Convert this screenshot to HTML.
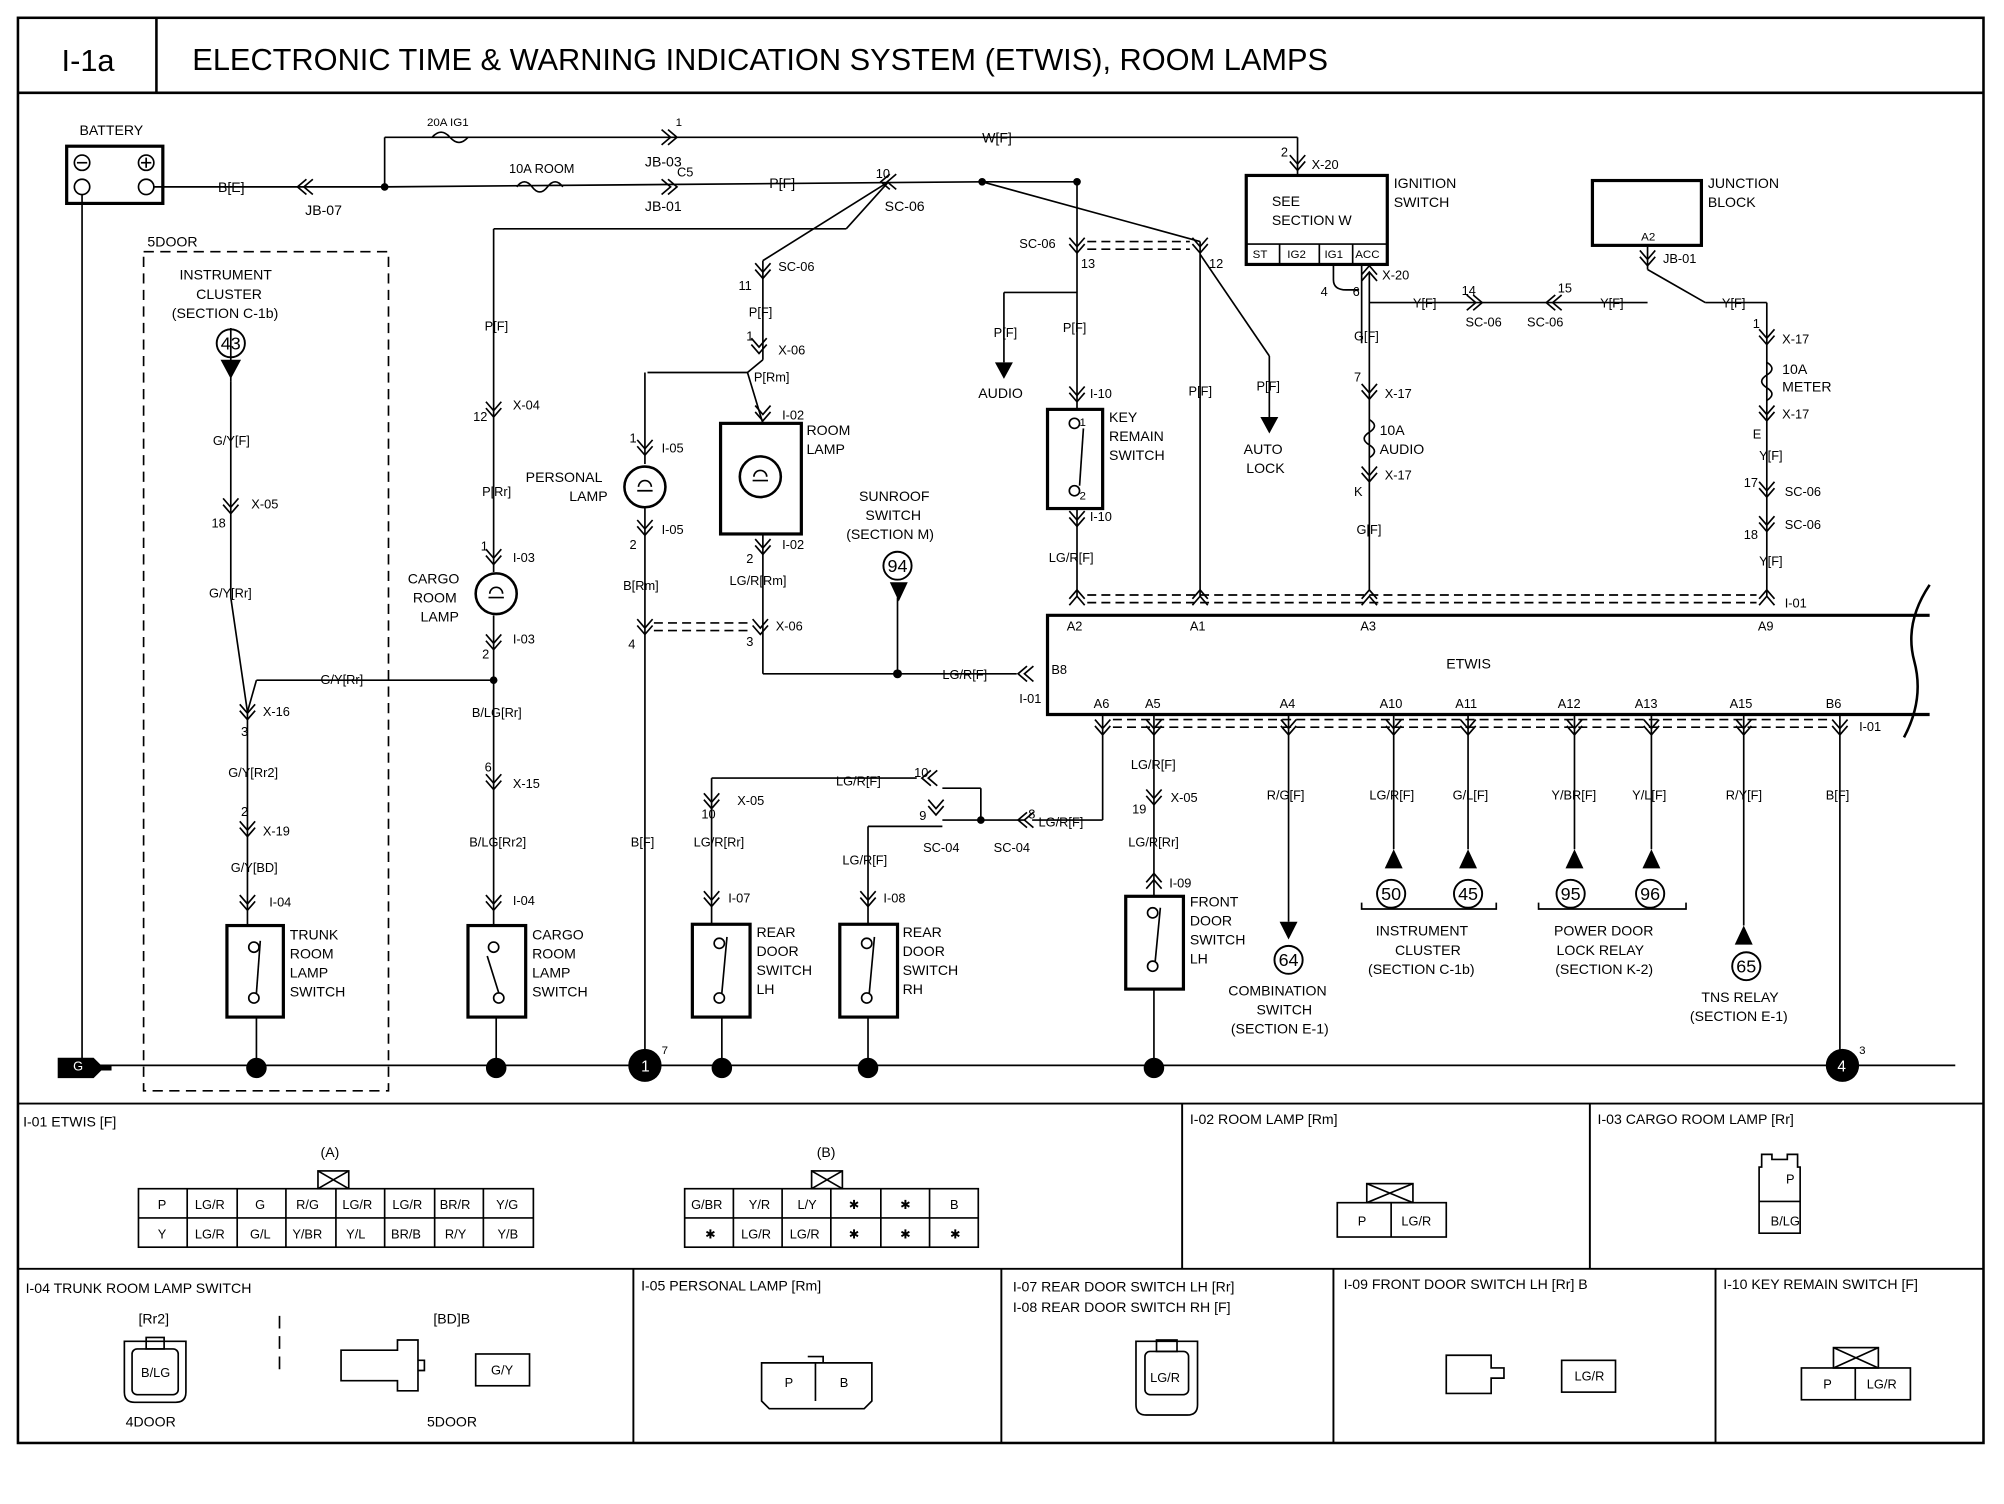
<!DOCTYPE html>
<html><head><meta charset="utf-8"><style>
html,body{margin:0;padding:0;background:#fff;}
svg{display:block;}
text{font-family:"Liberation Sans",sans-serif;fill:#000;}
</style></head><body>
<svg width="2004" height="1504" viewBox="0 0 1563 1183" preserveAspectRatio="none" xmlns="http://www.w3.org/2000/svg">
<defs>
<g id="cv"><path d="M-6,-6 L0,1 L6,-6 M-6,-1 L0,6 L6,-1" fill="none" stroke="#000" stroke-width="1.3"/></g>
<g id="ch"><path d="M-6,-6 L1,0 L-6,6 M-1,-6 L6,0 L-1,6" fill="none" stroke="#000" stroke-width="1.3"/></g>
<g id="chl"><path d="M6,-6 L-1,0 L6,6 M1,-6 L-6,0 L1,6" fill="none" stroke="#000" stroke-width="1.3"/></g>
<g id="cu"><path d="M-6,6 L0,-1 L6,6 M-6,1 L0,-6 L6,1" fill="none" stroke="#000" stroke-width="1.3"/></g>
</defs>
<rect width="1563" height="1183" fill="#fff"/>
<g fill="none" stroke="#000" stroke-width="2">
<rect x="14" y="14" width="1533" height="1121"/>
<line x1="14" y1="73" x2="1547" y2="73"/>
<line x1="122" y1="14" x2="122" y2="73"/>
<line x1="14" y1="868" x2="1547" y2="868" stroke-width="1.5"/>
<line x1="14" y1="998" x2="1547" y2="998" stroke-width="1.5"/>
<line x1="922" y1="868" x2="922" y2="998" stroke-width="1.5"/>
<line x1="1240" y1="868" x2="1240" y2="998" stroke-width="1.5"/>
<line x1="494" y1="998" x2="494" y2="1135" stroke-width="1.5"/>
<line x1="781" y1="998" x2="781" y2="1135" stroke-width="1.5"/>
<line x1="1040" y1="998" x2="1040" y2="1135" stroke-width="1.5"/>
<line x1="1338" y1="998" x2="1338" y2="1135" stroke-width="1.5"/>
</g>
<text x="48" y="56" font-size="24">I-1a</text>
<text x="150" y="55" font-size="24">ELECTRONIC TIME &amp; WARNING INDICATION SYSTEM (ETWIS), ROOM LAMPS</text>

<g fill="none" stroke="#000" stroke-width="1.3">
<!-- battery -->
<rect x="52" y="115" width="75" height="45" stroke-width="2.5"/>
<circle cx="64" cy="128" r="6"/><circle cx="64" cy="147" r="6"/><circle cx="114" cy="128" r="6"/><circle cx="114" cy="147" r="6"/>
<line x1="60" y1="128" x2="68" y2="128"/><line x1="110" y1="128" x2="118" y2="128"/><line x1="114" y1="124" x2="114" y2="132"/>
<line x1="64" y1="153" x2="64" y2="838"/>
<line x1="120" y1="147" x2="300" y2="147"/>
<line x1="300" y1="147" x2="300" y2="108"/>
<line x1="300" y1="108" x2="1012" y2="108"/>
<line x1="1012" y1="108" x2="1012" y2="138"/>
<line x1="300" y1="147" x2="766" y2="143"/>
<line x1="766" y1="143" x2="840" y2="143"/>
<line x1="840" y1="143" x2="840" y2="322"/>
<line x1="766" y1="143" x2="936" y2="190"/>
<line x1="936" y1="190" x2="936" y2="470"/>
<line x1="936" y1="200" x2="990" y2="280"/><line x1="990" y1="280" x2="990" y2="330"/>
<line x1="840" y1="230" x2="783" y2="230"/><line x1="783" y1="230" x2="783" y2="285"/>
<line x1="385" y1="180" x2="660" y2="180"/><line x1="660" y1="180" x2="693" y2="143"/>
<line x1="693" y1="143" x2="595" y2="205"/><line x1="595" y1="205" x2="595" y2="283"/>
<line x1="595" y1="283" x2="583" y2="293"/><line x1="583" y1="293" x2="505" y2="293"/>
<line x1="583" y1="293" x2="595" y2="333"/>
<!-- 385 line -->
<line x1="385" y1="180" x2="385" y2="450"/>
<circle cx="387" cy="467" r="16" stroke-width="2"/><path d="M382,467 a5,5 0 1 1 10,0 M381,470 h12"/>
<line x1="385" y1="484" x2="385" y2="728"/>
<rect x="365" y="728" width="45" height="72" stroke-width="2.5"/>
<circle cx="385" cy="745" r="4"/><circle cx="389" cy="785" r="4"/><line x1="380" y1="752" x2="389" y2="781"/>
<line x1="387" y1="800" x2="387" y2="838"/>
<!-- G/Y -->
<line x1="200" y1="535" x2="385" y2="535"/>
<line x1="200" y1="535" x2="193" y2="560"/>
<line x1="180" y1="300" x2="180" y2="470"/><line x1="180" y1="470" x2="193" y2="560"/>
<line x1="193" y1="560" x2="193" y2="728"/>
<rect x="177" y="728" width="44" height="72" stroke-width="2.5"/>
<circle cx="198" cy="745" r="4"/><circle cx="198" cy="785" r="4"/><line x1="203" y1="740" x2="200" y2="781"/>
<line x1="200" y1="800" x2="200" y2="838"/>
<rect x="112" y="198" width="191" height="660" stroke-dasharray="8,5"/>
<!-- personal lamp -->
<line x1="503" y1="293" x2="503" y2="365"/>
<circle cx="503" cy="383" r="16" stroke-width="2"/><path d="M498,383 a5,5 0 1 1 10,0 M497,386 h12"/>
<line x1="503" y1="400" x2="503" y2="838"/>
<line x1="510" y1="490" x2="585" y2="490" stroke-dasharray="7,4"/><line x1="510" y1="496" x2="585" y2="496" stroke-dasharray="7,4"/>
<!-- room lamp -->
<rect x="562" y="333" width="63" height="87" stroke-width="2.5"/>
<circle cx="593" cy="375" r="16" stroke-width="2"/><path d="M588,375 a5,5 0 1 1 10,0 M587,378 h12"/>
<line x1="595" y1="420" x2="595" y2="530"/>
<line x1="595" y1="530" x2="793" y2="530"/>
<line x1="700" y1="470" x2="700" y2="530"/>
<!-- key remain -->
<rect x="817" y="322" width="43" height="78" stroke-width="2.5"/>
<circle cx="838" cy="333" r="4"/><circle cx="838" cy="386" r="4"/><line x1="845" y1="337" x2="842" y2="382"/>
<line x1="840" y1="400" x2="840" y2="470"/>
<line x1="848" y1="190" x2="928" y2="190" stroke-dasharray="7,4"/><line x1="848" y1="196" x2="928" y2="196" stroke-dasharray="7,4"/>
<!-- ignition -->
<rect x="972" y="138" width="110" height="70" stroke-width="2.5"/>
<line x1="972" y1="192" x2="1082" y2="192"/>
<line x1="998" y1="192" x2="998" y2="208"/><line x1="1029" y1="192" x2="1029" y2="208"/><line x1="1055" y1="192" x2="1055" y2="208"/>
<path d="M1040,208 v12 q0,8 10,8 h10 M1062,208 v62"/>
<line x1="1068" y1="215" x2="1068" y2="465"/>
<line x1="1068" y1="238" x2="1285" y2="238"/>
<line x1="1285" y1="193" x2="1285" y2="212"/>
<line x1="1285" y1="212" x2="1330" y2="238"/><line x1="1330" y1="238" x2="1378" y2="238"/>
<line x1="1378" y1="238" x2="1378" y2="470"/>
<rect x="1242" y="142" width="85" height="51" stroke-width="2.5"/>
<!-- dashed top -->
<line x1="848" y1="468" x2="1370" y2="468" stroke-dasharray="7,4"/><line x1="848" y1="474" x2="1370" y2="474" stroke-dasharray="7,4"/>
<!-- ETWIS -->
<path d="M1505,484 H817 V562 H1505" stroke-width="2.5"/>
<path d="M1505,460 q-20,30 -12,60 q8,30 -8,60" stroke-width="2"/>
<line x1="868" y1="566" x2="1428" y2="566" stroke-dasharray="7,4"/><line x1="868" y1="572" x2="1428" y2="572" stroke-dasharray="7,4"/>
<line x1="860" y1="562" x2="860" y2="645"/><line x1="860" y1="645" x2="805" y2="645"/>
<line x1="800" y1="645" x2="735" y2="645"/>
<line x1="765" y1="645" x2="765" y2="620"/><line x1="765" y1="620" x2="735" y2="620"/>
<line x1="715" y1="612" x2="555" y2="612"/><line x1="555" y1="612" x2="555" y2="727"/>
<line x1="735" y1="650" x2="677" y2="650"/><line x1="677" y1="650" x2="677" y2="727"/>
<rect x="540" y="727" width="45" height="73" stroke-width="2.5"/>
<circle cx="561" cy="742" r="4"/><circle cx="561" cy="785" r="4"/><line x1="567" y1="737" x2="563" y2="781"/>
<line x1="563" y1="800" x2="563" y2="838"/>
<rect x="655" y="727" width="45" height="73" stroke-width="2.5"/>
<circle cx="676" cy="742" r="4"/><circle cx="676" cy="785" r="4"/><line x1="682" y1="737" x2="678" y2="781"/>
<line x1="677" y1="800" x2="677" y2="838"/>
<line x1="900" y1="562" x2="900" y2="705"/>
<rect x="878" y="705" width="45" height="73" stroke-width="2.5"/>
<circle cx="899" cy="718" r="4"/><circle cx="899" cy="760" r="4"/><line x1="905" y1="714" x2="901" y2="756"/>
<line x1="900" y1="778" x2="900" y2="838"/>
<line x1="1005" y1="562" x2="1005" y2="725"/>
<line x1="1087" y1="562" x2="1087" y2="668"/>
<line x1="1145" y1="562" x2="1145" y2="668"/>
<line x1="1228" y1="562" x2="1228" y2="668"/>
<line x1="1288" y1="562" x2="1288" y2="668"/>
<line x1="1360" y1="562" x2="1360" y2="728"/>
<line x1="1435" y1="562" x2="1435" y2="838"/>
<path d="M1062,710 v5 h105 v-5 M1200,710 v5 h115 v-5"/>
<!-- sunroof / 43 -->
<line x1="180" y1="258" x2="180" y2="300"/>
<!-- ground -->
<line x1="64" y1="838" x2="1525" y2="838"/>
</g>
<!-- fuses -->
<g fill="none" stroke="#000" stroke-width="1.3">
<path d="M337,108 q7,-8 14,0 q7,8 14,0"/>
<path d="M403,147 q6,-8 12,0 q6,8 12,0 q6,-8 12,0"/>
<path d="M1068,330 q8,5 0,10 q-8,5 0,10 q8,5 0,10"/>
<path d="M1378,285 q8,5 0,10 q-8,5 0,10 q8,5 0,10"/>
</g>
<g fill="#000">
<circle cx="300" cy="147" r="3"/><circle cx="766" cy="143" r="3"/><circle cx="840" cy="143" r="3"/><circle cx="700" cy="530" r="3.5"/><circle cx="765" cy="645" r="3"/><circle cx="385" cy="535" r="3"/>
<circle cx="200" cy="840" r="8"/><circle cx="387" cy="840" r="8"/><circle cx="563" cy="840" r="8"/><circle cx="677" cy="840" r="8"/><circle cx="900" cy="840" r="8"/>
<circle cx="503" cy="838" r="13"/><circle cx="1437" cy="838" r="13"/>
<path d="M172,283 h16 l-8,15z"/><path d="M694,458 h14 l-7,15z"/>
<path d="M776,285 h14 l-7,13z"/><path d="M983,328 h14 l-7,13z"/>
<path d="M998,725 h14 l-7,14z"/>
<path d="M1080,683 h14 l-7,-15z"/><path d="M1138,683 h14 l-7,-15z"/><path d="M1221,683 h14 l-7,-15z"/><path d="M1281,683 h14 l-7,-15z"/><path d="M1353,743 h14 l-7,-15z"/>
<path d="M45,832 h28 l6,6 h8 v4 h-8 l-6,6 h-28z"/>
</g>
<text x="500" y="843" font-size="12" fill="#fff" style="fill:#fff">1</text>
<text x="1433" y="843" font-size="12" style="fill:#fff">4</text>
<text x="516" y="829" font-size="9">7</text><text x="1450" y="829" font-size="9">3</text>
<g fill="none" stroke="#000" stroke-width="1.5">
<circle cx="180" cy="270" r="11"/><circle cx="700" cy="445" r="11"/><circle cx="1005" cy="755" r="11"/>
<circle cx="1085" cy="703" r="11"/><circle cx="1145" cy="703" r="11"/><circle cx="1225" cy="703" r="11"/><circle cx="1287" cy="703" r="11"/><circle cx="1362" cy="760" r="11"/>
</g>
<g font-size="14" text-anchor="middle">
<text x="180" y="275">43</text><text x="700" y="450">94</text><text x="1005" y="760">64</text><text x="1085" y="708">50</text><text x="1145" y="708">45</text><text x="1225" y="708">95</text><text x="1287" y="708">96</text><text x="1362" y="765">65</text>
</g>
<!-- connectors -->
<use href="#chl" x="238" y="147"/><use href="#ch" x="522" y="108"/><use href="#ch" x="522" y="147"/><use href="#chl" x="693" y="143"/>
<use href="#cv" x="595" y="213"/><use href="#cv" x="592" y="272"/><use href="#cv" x="595" y="325"/><use href="#cv" x="595" y="430"/><use href="#cv" x="593" y="493"/>
<use href="#cv" x="385" y="322"/><use href="#cv" x="385" y="438"/><use href="#cv" x="385" y="505"/><use href="#cv" x="385" y="615"/><use href="#cv" x="385" y="710"/>
<use href="#cv" x="180" y="398"/><use href="#cv" x="193" y="560"/><use href="#cv" x="193" y="652"/><use href="#cv" x="193" y="710"/>
<use href="#cv" x="503" y="352"/><use href="#cv" x="503" y="415"/><use href="#cv" x="503" y="493"/>
<use href="#cv" x="840" y="193"/><use href="#cv" x="840" y="310"/><use href="#cv" x="840" y="408"/><use href="#cu" x="840" y="470"/>
<use href="#cv" x="936" y="193"/><use href="#cu" x="936" y="470"/>
<use href="#cv" x="1012" y="128"/><use href="#cu" x="1068" y="215"/><use href="#ch" x="1150" y="238"/><use href="#chl" x="1212" y="238"/><use href="#cv" x="1285" y="203"/>
<use href="#cv" x="1068" y="308"/><use href="#cv" x="1068" y="373"/><use href="#cu" x="1068" y="470"/>
<use href="#cv" x="1378" y="265"/><use href="#cv" x="1378" y="325"/><use href="#cv" x="1378" y="385"/><use href="#cv" x="1378" y="412"/><use href="#cu" x="1378" y="470"/>
<use href="#chl" x="800" y="530"/>
<use href="#cv" x="860" y="572"/><use href="#cv" x="900" y="572"/><use href="#cv" x="1005" y="572"/><use href="#cv" x="1087" y="572"/><use href="#cv" x="1145" y="572"/><use href="#cv" x="1228" y="572"/><use href="#cv" x="1288" y="572"/><use href="#cv" x="1360" y="572"/><use href="#cv" x="1435" y="572"/>
<use href="#cv" x="900" y="627"/><use href="#cu" x="900" y="693"/>
<use href="#chl" x="800" y="645"/><use href="#chl" x="725" y="612"/><use href="#cv" x="730" y="635"/>
<use href="#cv" x="555" y="630"/><use href="#cv" x="555" y="707"/><use href="#cv" x="677" y="707"/>
<!-- labels -->
<g font-size="11">
<text x="62" y="106">BATTERY</text>
<text x="170" y="151">B[E]</text><text x="238" y="169">JB-07</text>
<text x="333" y="99" font-size="9">20A IG1</text><text x="527" y="99" font-size="9">1</text><text x="503" y="131">JB-03</text>
<text x="397" y="136" font-size="10">10A ROOM</text><text x="528" y="139" font-size="10">C5</text><text x="503" y="166">JB-01</text>
<text x="600" y="148">P[F]</text><text x="766" y="112">W[F]</text>
<text x="683" y="140" font-size="10">10</text><text x="690" y="166">SC-06</text>
<text x="115" y="194">5DOOR</text>
<text x="140" y="220">INSTRUMENT</text><text x="153" y="235">CLUSTER</text><text x="134" y="250">(SECTION C-1b)</text>
<text x="166" y="350" font-size="10">G/Y[F]</text><text x="196" y="400" font-size="10">X-05</text><text x="165" y="415" font-size="10">18</text>
<text x="163" y="470" font-size="10">G/Y[Rr]</text><text x="250" y="538" font-size="10">G/Y[Rr]</text>
<text x="205" y="563" font-size="10">X-16</text><text x="188" y="579" font-size="10">3</text>
<text x="178" y="611" font-size="10">G/Y[Rr2]</text><text x="188" y="642" font-size="10">2</text><text x="205" y="657" font-size="10">X-19</text>
<text x="180" y="686" font-size="10">G/Y[BD]</text><text x="210" y="713" font-size="10">I-04</text>
<text x="226" y="739">TRUNK</text><text x="226" y="754">ROOM</text><text x="226" y="769">LAMP</text><text x="226" y="784">SWITCH</text>
<text x="378" y="260" font-size="10">P[F]</text><text x="400" y="322" font-size="10">X-04</text><text x="369" y="331" font-size="10">12</text>
<text x="376" y="390" font-size="10">P[Rr]</text><text x="375" y="433" font-size="10">1</text><text x="400" y="442" font-size="10">I-03</text>
<text x="318" y="459">CARGO</text><text x="322" y="474">ROOM</text><text x="328" y="489">LAMP</text>
<text x="400" y="506" font-size="10">I-03</text><text x="376" y="518" font-size="10">2</text>
<text x="368" y="564" font-size="10">B/LG[Rr]</text><text x="378" y="607" font-size="10">6</text><text x="400" y="620" font-size="10">X-15</text>
<text x="366" y="666" font-size="10">B/LG[Rr2]</text><text x="400" y="712" font-size="10">I-04</text>
<text x="415" y="739">CARGO</text><text x="415" y="754">ROOM</text><text x="415" y="769">LAMP</text><text x="415" y="784">SWITCH</text>
<text x="410" y="379">PERSONAL</text><text x="444" y="394">LAMP</text>
<text x="491" y="348" font-size="10">1</text><text x="516" y="356" font-size="10">I-05</text>
<text x="516" y="420" font-size="10">I-05</text><text x="491" y="432" font-size="10">2</text>
<text x="486" y="464" font-size="10">B[Rm]</text><text x="490" y="510" font-size="10">4</text><text x="492" y="666" font-size="10">B[F]</text>
<text x="576" y="228" font-size="10">11</text><text x="607" y="213" font-size="10">SC-06</text><text x="584" y="249" font-size="10">P[F]</text>
<text x="582" y="268" font-size="10">1</text><text x="607" y="279" font-size="10">X-06</text><text x="588" y="300" font-size="10">P[Rm]</text>
<text x="610" y="330" font-size="10">I-02</text><text x="629" y="342">ROOM</text><text x="629" y="357">LAMP</text>
<text x="582" y="443" font-size="10">2</text><text x="610" y="432" font-size="10">I-02</text>
<text x="569" y="460" font-size="10">LG/R[Rm]</text><text x="582" y="508" font-size="10">3</text><text x="605" y="496" font-size="10">X-06</text>
<text x="670" y="394">SUNROOF</text><text x="675" y="409">SWITCH</text><text x="660" y="424">(SECTION M)</text>
<text x="735" y="534" font-size="10">LG/R[F]</text><text x="820" y="530" font-size="10">B8</text><text x="795" y="553" font-size="10">I-01</text>
<text x="795" y="195" font-size="10">SC-06</text><text x="843" y="211" font-size="10">13</text>
<text x="775" y="265" font-size="10">P[F]</text><text x="829" y="261" font-size="10">P[F]</text><text x="763" y="313">AUDIO</text>
<text x="850" y="313" font-size="10">I-10</text><text x="842" y="335" font-size="9">1</text><text x="842" y="393" font-size="9">2</text>
<text x="865" y="332">KEY</text><text x="865" y="347">REMAIN</text><text x="865" y="362">SWITCH</text>
<text x="850" y="410" font-size="10">I-10</text><text x="818" y="442" font-size="10">LG/R[F]</text>
<text x="943" y="211" font-size="10">12</text><text x="927" y="311" font-size="10">P[F]</text>
<text x="980" y="307" font-size="10">P[F]</text><text x="970" y="357">AUTO</text><text x="972" y="372">LOCK</text>
<text x="999" y="123" font-size="10">2</text><text x="1023" y="133" font-size="10">X-20</text>
<text x="992" y="162">SEE</text><text x="992" y="177">SECTION W</text>
<text x="977" y="203" font-size="9">ST</text><text x="1004" y="203" font-size="9">IG2</text><text x="1033" y="203" font-size="9">IG1</text><text x="1057" y="203" font-size="9">ACC</text>
<text x="1087" y="148">IGNITION</text><text x="1087" y="163">SWITCH</text>
<text x="1030" y="233" font-size="10">4</text><text x="1055" y="233" font-size="10">6</text><text x="1078" y="220" font-size="10">X-20</text>
<text x="1102" y="242" font-size="10">Y[F]</text><text x="1140" y="232" font-size="10">14</text><text x="1143" y="257" font-size="10">SC-06</text>
<text x="1215" y="230" font-size="10">15</text><text x="1191" y="257" font-size="10">SC-06</text><text x="1248" y="242" font-size="10">Y[F]</text>
<text x="1332" y="148">JUNCTION</text><text x="1332" y="163">BLOCK</text><text x="1280" y="189" font-size="9">A2</text><text x="1297" y="207" font-size="10">JB-01</text>
<text x="1343" y="242" font-size="10">Y[F]</text>
<text x="1056" y="268" font-size="10">G[F]</text><text x="1056" y="300" font-size="10">7</text><text x="1080" y="313" font-size="10">X-17</text>
<text x="1076" y="342">10A</text><text x="1076" y="357">AUDIO</text><text x="1080" y="377" font-size="10">X-17</text><text x="1056" y="390" font-size="10">K</text>
<text x="1058" y="420" font-size="10">G[F]</text>
<text x="1367" y="258" font-size="10">1</text><text x="1390" y="270" font-size="10">X-17</text>
<text x="1390" y="294">10A</text><text x="1390" y="308">METER</text><text x="1390" y="329" font-size="10">X-17</text><text x="1367" y="345" font-size="10">E</text>
<text x="1372" y="362" font-size="10">Y[F]</text><text x="1360" y="383" font-size="10">17</text><text x="1392" y="390" font-size="10">SC-06</text>
<text x="1360" y="424" font-size="10">18</text><text x="1392" y="416" font-size="10">SC-06</text><text x="1372" y="445" font-size="10">Y[F]</text>
<text x="1392" y="478" font-size="10">I-01</text>
<text x="832" y="496" font-size="10">A2</text><text x="928" y="496" font-size="10">A1</text><text x="1061" y="496" font-size="10">A3</text><text x="1371" y="496" font-size="10">A9</text>
<text x="1128" y="526">ETWIS</text>
<text x="853" y="557" font-size="10">A6</text><text x="893" y="557" font-size="10">A5</text><text x="998" y="557" font-size="10">A4</text><text x="1076" y="557" font-size="10">A10</text><text x="1135" y="557" font-size="10">A11</text><text x="1215" y="557" font-size="10">A12</text><text x="1275" y="557" font-size="10">A13</text><text x="1349" y="557" font-size="10">A15</text><text x="1424" y="557" font-size="10">B6</text>
<text x="1450" y="575" font-size="10">I-01</text>
<text x="882" y="605" font-size="10">LG/R[F]</text><text x="883" y="640" font-size="10">19</text><text x="913" y="631" font-size="10">X-05</text><text x="880" y="666" font-size="10">LG/R[Rr]</text>
<text x="912" y="698" font-size="10">I-09</text>
<text x="928" y="713">FRONT</text><text x="928" y="728">DOOR</text><text x="928" y="743">SWITCH</text><text x="928" y="758">LH</text>
<text x="810" y="650" font-size="10">LG/R[F]</text><text x="802" y="644" font-size="10">8</text><text x="775" y="670" font-size="10">SC-04</text><text x="720" y="670" font-size="10">SC-04</text>
<text x="713" y="611" font-size="10">10</text><text x="717" y="645" font-size="10">9</text><text x="652" y="618" font-size="10">LG/R[F]</text>
<text x="547" y="644" font-size="10">10</text><text x="575" y="633" font-size="10">X-05</text><text x="541" y="666" font-size="10">LG/R[Rr]</text>
<text x="568" y="710" font-size="10">I-07</text><text x="590" y="737">REAR</text><text x="590" y="752">DOOR</text><text x="590" y="767">SWITCH</text><text x="590" y="782">LH</text>
<text x="657" y="680" font-size="10">LG/R[F]</text><text x="689" y="710" font-size="10">I-08</text>
<text x="704" y="737">REAR</text><text x="704" y="752">DOOR</text><text x="704" y="767">SWITCH</text><text x="704" y="782">RH</text>
<text x="988" y="629" font-size="10">R/G[F]</text><text x="1068" y="629" font-size="10">LG/R[F]</text><text x="1133" y="629" font-size="10">G/L[F]</text>
<text x="1210" y="629" font-size="10">Y/BR[F]</text><text x="1273" y="629" font-size="10">Y/L[F]</text><text x="1346" y="629" font-size="10">R/Y[F]</text><text x="1424" y="629" font-size="10">B[F]</text>
<text x="1073" y="736">INSTRUMENT</text><text x="1088" y="751">CLUSTER</text><text x="1067" y="766">(SECTION C-1b)</text>
<text x="1212" y="736">POWER DOOR</text><text x="1214" y="751">LOCK RELAY</text><text x="1213" y="766">(SECTION K-2)</text>
<text x="958" y="783">COMBINATION</text><text x="980" y="798">SWITCH</text><text x="960" y="813">(SECTION E-1)</text>
<text x="1327" y="788">TNS RELAY</text><text x="1318" y="803">(SECTION E-1)</text>
<text x="57" y="842" font-size="10" style="fill:#fff">G</text>
<!-- bottom sections -->
<text x="18" y="886">I-01 ETWIS [F]</text><text x="928" y="884">I-02 ROOM LAMP [Rm]</text><text x="1246" y="884">I-03 CARGO ROOM LAMP [Rr]</text>
<text x="20" y="1017">I-04 TRUNK ROOM LAMP  SWITCH</text><text x="500" y="1015">I-05 PERSONAL LAMP [Rm]</text>
<text x="790" y="1016">I-07 REAR DOOR SWITCH LH [Rr]</text><text x="790" y="1032">I-08 REAR DOOR SWITCH RH [F]</text>
<text x="1048" y="1014">I-09 FRONT DOOR SWITCH LH [Rr] B</text><text x="1344" y="1014">I-10 KEY REMAIN  SWITCH [F]</text>
<text x="250" y="910">(A)</text><text x="637" y="910">(B)</text>
<text x="108" y="1041">[Rr2]</text><text x="338" y="1041">[BD]B</text><text x="98" y="1122">4DOOR</text><text x="333" y="1122">5DOOR</text>
</g>
<g fill="none" stroke="#000" stroke-width="1.3">
<rect x="108" y="935" width="308" height="46"/><line x1="108" y1="958" x2="416" y2="958"/>
<path d="M146,935v46M185,935v46M223,935v46M262,935v46M300,935v46M339,935v46M377,935v46"/>
<rect x="248" y="921" width="24" height="14"/><path d="M248,921 l24,14 M272,921 l-24,14"/>
<rect x="534" y="935" width="229" height="46"/><line x1="534" y1="958" x2="763" y2="958"/>
<path d="M572,935v46M610,935v46M648,935v46M687,935v46M725,935v46"/>
<rect x="633" y="921" width="24" height="14"/><path d="M633,921 l24,14 M657,921 l-24,14"/>
<rect x="1043" y="946" width="85" height="27"/><line x1="1085" y1="946" x2="1085" y2="973"/>
<rect x="1066" y="931" width="36" height="15"/><path d="M1066,931 l36,15 M1102,931 l-36,15"/>
<path d="M1374,918 v-10 h8 v4 h12 v-4 h8 v10 h2 v52 h-32 v-52z M1372,945 h32"/>
<path d="M97,1055 h48 v40 q0,8 -8,8 h-32 q-8,0 -8,-8z"/><rect x="103" y="1061" width="36" height="36" rx="4"/><rect x="114" y="1052" width="14" height="9"/>
<line x1="218" y1="1035" x2="218" y2="1080" stroke-dasharray="10,6"/>
<path d="M266,1062 h44 v-8 h16 v40 h-16 v-8 h-44z M326,1070 h5 v8 h-5"/>
<rect x="371" y="1065" width="42" height="25"/>
<path d="M594,1072 h86 v30 l-6,6 h-74 l-6,-6z M636,1072 v30 M630,1067 h12 v5"/>
<path d="M886,1055 h48 v50 q0,8 -8,8 h-32 q-8,0 -8,-8z"/><rect x="893" y="1063" width="34" height="34" rx="4"/><rect x="902" y="1054" width="16" height="9"/>
<path d="M1128,1066 h35 v10 h10 v8 h-10 v12 h-35z"/><rect x="1218" y="1070" width="42" height="25"/>
<rect x="1405" y="1076" width="85" height="25"/><line x1="1447" y1="1076" x2="1447" y2="1101"/>
<rect x="1430" y="1060" width="35" height="16"/><path d="M1430,1060 l35,16 M1465,1060 l-35,16"/>
</g>
<g font-size="10">
<text x="123" y="951">P</text><text x="152" y="951">LG/R</text><text x="199" y="951">G</text><text x="231" y="951">R/G</text><text x="267" y="951">LG/R</text><text x="306" y="951">LG/R</text><text x="343" y="951">BR/R</text><text x="387" y="951">Y/G</text>
<text x="123" y="974">Y</text><text x="152" y="974">LG/R</text><text x="195" y="974">G/L</text><text x="228" y="974">Y/BR</text><text x="270" y="974">Y/L</text><text x="305" y="974">BR/B</text><text x="347" y="974">R/Y</text><text x="388" y="974">Y/B</text>
<text x="539" y="951">G/BR</text><text x="584" y="951">Y/R</text><text x="622" y="951">L/Y</text><text x="662" y="951">✱</text><text x="702" y="951">✱</text><text x="741" y="951">B</text>
<text x="550" y="974">✱</text><text x="578" y="974">LG/R</text><text x="616" y="974">LG/R</text><text x="662" y="974">✱</text><text x="702" y="974">✱</text><text x="741" y="974">✱</text>
<text x="1059" y="964">P</text><text x="1093" y="964">LG/R</text>
<text x="1393" y="931">P</text><text x="1381" y="964">B/LG</text>
<text x="110" y="1083">B/LG</text><text x="383" y="1081">G/Y</text>
<text x="612" y="1091">P</text><text x="655" y="1091">B</text>
<text x="897" y="1087">LG/R</text><text x="1228" y="1086">LG/R</text>
<text x="1422" y="1092">P</text><text x="1456" y="1092">LG/R</text>
</g>
</svg>
</body></html>
